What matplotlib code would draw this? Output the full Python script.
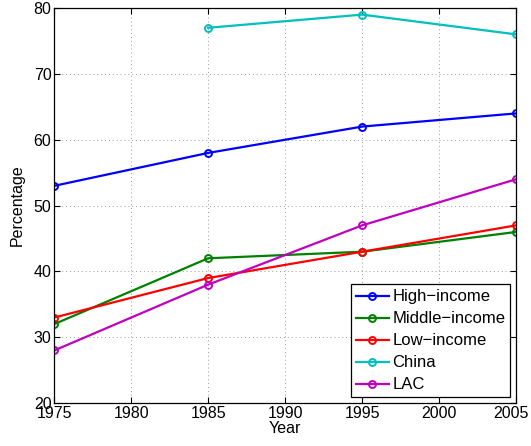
import numpy as np
import matplotlib.pyplot as plt
import matplotlib.transforms as mtransforms

plt.rcParams['font.family'] = ['Liberation Sans', 'DejaVu Sans']

years = [1975, 1985, 1995, 2005]
high_income = [53, 58, 62, 64]
middle_income = [32, 42, 43, 46]
low_income = [33, 39, 43, 47]
china_years = [1985, 1995, 2005]
china = [77, 79, 76]
lac = [28, 38, 47, 54]

fig = plt.figure(figsize=(5.31, 4.46), dpi=100)
ax = fig.add_axes([0.102, 0.096, 0.870, 0.886])

style = dict(marker='o', markersize=5, markerfacecolor='none', markeredgewidth=1.4, linewidth=1.6)
ax.plot(years, high_income, color='#0000ff', label='High\u2212income', **style)
ax.plot(years, middle_income, color='#008000', label='Middle\u2212income', **style)
ax.plot(years, low_income, color='#ff0000', label='Low\u2212income', **style)
ax.plot(china_years, china, color='#00bfbf', label='China', **style)
ax.plot(years, lac, color='#bf00bf', label='LAC', **style)

ax.set_xlim(1975, 2005)
ax.set_ylim(20, 80)
ax.set_xticks(np.arange(1975, 2006, 5))
ax.set_yticks(np.arange(20, 81, 10))
ax.tick_params(direction='in', top=True, right=True, labelsize=11.5, length=4, pad=2)
ax.grid(True, linestyle=(0, (1, 3)), color='#999999', linewidth=0.7)
for s in ax.spines.values():
    s.set_linewidth(0.9)

# nudge the last year label inside the figure
last = ax.get_xticklabels()[-1]
last.set_transform(last.get_transform() + mtransforms.ScaledTranslation(-0.05, 0, fig.dpi_scale_trans))

ax.set_xlabel('Year', fontsize=11.5, labelpad=0)
ax.set_ylabel('Percentage', fontsize=11.5, labelpad=6)

leg = ax.legend(loc='lower right', fontsize=12, fancybox=False, framealpha=1,
                edgecolor='black', handlelength=2.0, handletextpad=0.2,
                borderpad=0.3, labelspacing=0.42, borderaxespad=0.35)
leg.get_frame().set_linewidth(0.9)

fig.savefig('out.png', dpi=100)
